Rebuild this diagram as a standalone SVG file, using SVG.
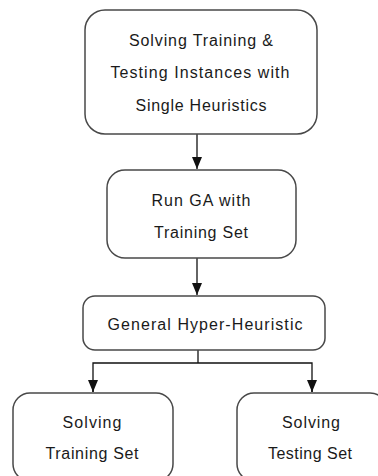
<svg xmlns="http://www.w3.org/2000/svg" width="378" height="476" viewBox="0 0 378 476">
<style>
.box{fill:#fff;stroke:#484848;stroke-width:1.5}
.t{font-family:"Liberation Sans",Arial,sans-serif;font-size:16px;fill:#1a1a1a;text-anchor:middle}
.c{fill:none;stroke:#111;stroke-width:1.3}
</style>
<defs>
<marker id="ah" viewBox="0 0 12 10" refX="12" refY="5" markerWidth="12" markerHeight="10" markerUnits="userSpaceOnUse" orient="auto">
<path d="M0,0 L12,5 L0,10 Z" fill="#111"/>
</marker>
</defs>
<rect width="378" height="476" fill="#fff"/>
<g id="connectors">
<line class="c" x1="197" y1="134" x2="197" y2="169" marker-end="url(#ah)"/>
<line class="c" x1="197" y1="258" x2="197" y2="295" marker-end="url(#ah)"/>
<polyline class="c" points="198,350 198,363"/>
<polyline class="c" points="93,392 93,363 312,363 312,392"/>
<line class="c" x1="93" y1="380" x2="93" y2="392" marker-end="url(#ah)"/>
<line class="c" x1="312" y1="380" x2="312" y2="392" marker-end="url(#ah)"/>
</g>
<g id="n1">
<rect class="box" x="85" y="10" width="232" height="124" rx="20"/>
<text class="t" x="201" y="46" textLength="144" lengthAdjust="spacing">Solving Training &amp;</text>
<text class="t" x="200" y="78" textLength="179" lengthAdjust="spacing">Testing Instances with</text>
<text class="t" x="201" y="111" textLength="131" lengthAdjust="spacing">Single Heuristics</text>
</g>
<g id="n2">
<rect class="box" x="107" y="170" width="189" height="88" rx="18"/>
<text class="t" x="201" y="206" textLength="99" lengthAdjust="spacing">Run GA with</text>
<text class="t" x="201" y="238" textLength="94" lengthAdjust="spacing">Training Set</text>
</g>
<g id="n3">
<rect class="box" x="83" y="296" width="242" height="54" rx="12"/>
<text class="t" x="205" y="330" textLength="195" lengthAdjust="spacing">General Hyper-Heuristic</text>
</g>
<g id="n4">
<rect class="box" x="13" y="393" width="160" height="88" rx="17"/>
<text class="t" x="92" y="428" textLength="59" lengthAdjust="spacing">Solving</text>
<text class="t" x="92" y="459" textLength="93" lengthAdjust="spacing">Training Set</text>
</g>
<g id="n5">
<rect class="box" x="237" y="393" width="150" height="88" rx="17"/>
<text class="t" x="311" y="428" textLength="58" lengthAdjust="spacing">Solving</text>
<text class="t" x="310" y="459" textLength="84" lengthAdjust="spacing">Testing Set</text>
</g>
</svg>
